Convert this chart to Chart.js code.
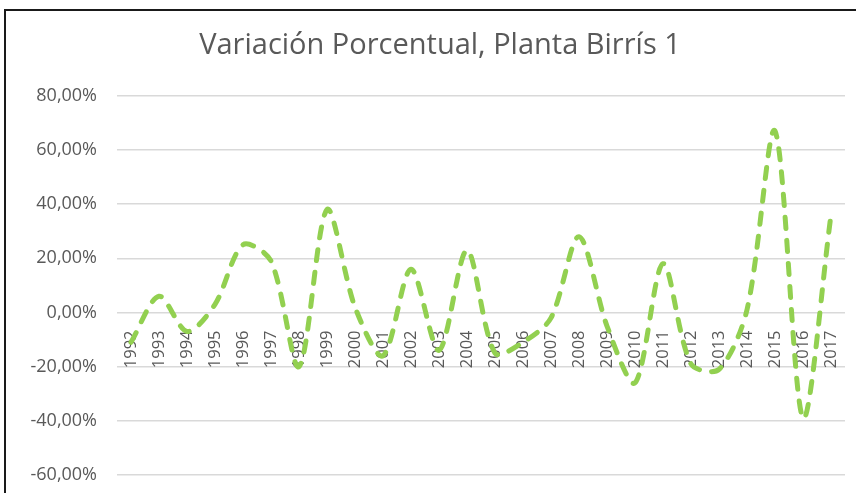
<!DOCTYPE html>
<html>
<head>
<meta charset="utf-8">
<script src="https://cdn.jsdelivr.net/npm/chart.js@4"></script>
<style>
    html, body { margin: 0; padding: 0; background: #fff; overflow: hidden; }
    #wrap { position: relative; width: 856px; height: 493px; }
    #frame { position: absolute; left: 4px; top: 9px; width: 1000px; height: 1000px; border: 2px solid #1a1a1a; }
    #chart { position: absolute; left: 0; top: 0; }
</style>
</head>
<body>
<div id="wrap">
    <div id="frame"></div>
    <canvas id="chart" width="856" height="493"></canvas>
</div>
<script>
// años (categorías)
const years = ['1992', '1993', '1994', '1995', '1996', '1997', '1998', '1999', '2000', '2001', '2002', '2003', '2004',
    '2005', '2006', '2007', '2008', '2009', '2010', '2011', '2012', '2013', '2014', '2015', '2016', '2017'];

// variación porcentual
const variation = [-11, 6, -7, 3, 25, 19, -20, 38, 2, -16, 16, -14, 23,
    -15, -11, -2, 28, -5, -26, 18, -19, -21, 1, 67, -39, 36];

// marcas del eje Y
const yMin = -60;
const yMax = 80;
const yStep = 20;

const textColor = '#595959';

// quitar el relleno automático que Chart.js agrega por las etiquetas
function noPadding(scale) {
    scale.paddingLeft = 0;
    scale.paddingRight = 0;
    scale.paddingTop = 0;
    scale.paddingBottom = 0;
}

// centrar el título sobre el marco y no sobre todo el lienzo
const shiftTitle = {
    id: 'shiftTitle',
    afterLayout(chart) {
        if (chart.titleBlock) chart.titleBlock.left = 35;
    }
};

const ctx = document.getElementById('chart').getContext('2d');
new Chart(ctx, {
    type: 'line',
    data: {
        labels: years,
        datasets: [{
            label: 'Variación',
            data: variation,
            borderColor: '#92D050',
            borderWidth: 5,
            borderDash: [11, 12],
            borderCapStyle: 'round',
            pointRadius: 0,
            tension: 0.3,
            fill: false
        }]
    },
    options: {
        responsive: false,
        animation: false,
        layout: {
            padding: { left: 0, right: 11, top: 0, bottom: 18 }
        },
        plugins: {
            legend: { display: false },
            tooltip: { enabled: false },
            title: {
                display: true,
                text: 'Variación Porcentual, Planta Birrís 1',
                color: textColor,
                font: { family: 'Open Sans', size: 29, weight: 'normal' },
                padding: { top: 28, bottom: 33 }
            }
        },
        scales: {
            x: {
                position: { y: 0 },
                offset: true,
                afterFit: noPadding,
                grid: { display: false, drawTicks: false },
                border: { display: false },
                ticks: {
                    autoSkip: false,
                    minRotation: 90,
                    maxRotation: 90,
                    padding: 18,
                    color: textColor,
                    font: { family: 'Open Sans', size: 16.5 }
                }
            },
            y: {
                min: yMin,
                max: yMax,
                afterFit: function(scale) {
                    scale.width = 117;
                    noPadding(scale);
                },
                grid: { color: '#d9d9d9', lineWidth: 1.5, drawTicks: false },
                border: { display: false },
                ticks: {
                    stepSize: yStep,
                    padding: 20,
                    color: textColor,
                    font: { family: 'Open Sans', size: 18 },
                    callback: function(value) {
                        return value.toFixed(2).replace('.', ',') + '%';
                    }
                }
            }
        }
    },
    plugins: [shiftTitle]
});
</script>
</body>
</html>
